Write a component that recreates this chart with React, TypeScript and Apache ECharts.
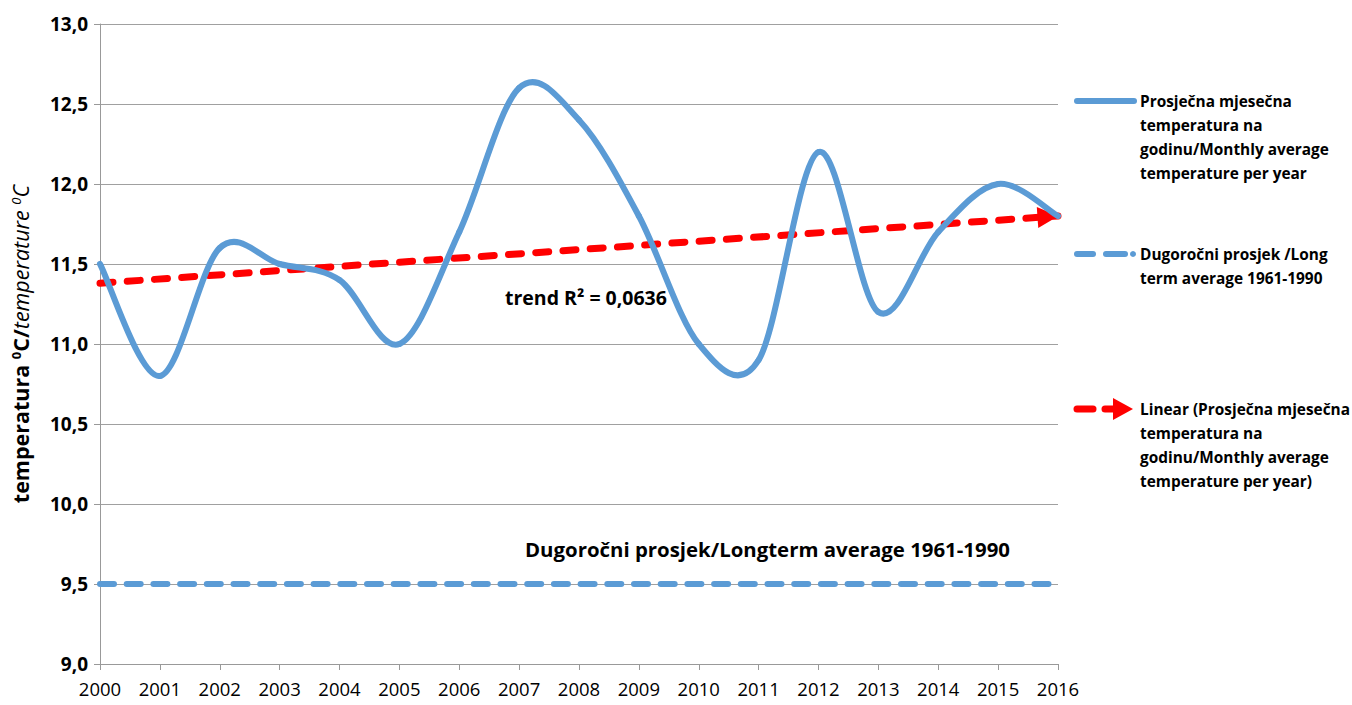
import React, { useEffect, useRef } from "react";
import * as echarts from "echarts";

const years = ["2000", "2001", "2002", "2003", "2004", "2005", "2006", "2007", "2008", "2009", "2010", "2011", "2012", "2013", "2014", "2015", "2016"];
const monthlyAvg = [11.5, 10.8, 11.6, 11.5, 11.4, 11.0, 11.7, 12.6, 12.4, 11.8, 11.0, 10.9, 12.2, 11.2, 11.7, 12.0, 11.8];
const longTermStart = 9.5;
const longTermEnd = 9.5;
const trendStart = 11.38;
const trendEnd = 11.8;
const yMin = 9;
const yMax = 13;
const yStep = 0.5;

const legendMain = ["Prosječna mjesečna", "temperatura na", "godinu/Monthly average", "temperature per year"];
const legendLong = ["Dugoročni prosjek /Long", "term average 1961-1990"];
const legendTrend = ["Linear (Prosječna mjesečna", "temperatura na", "godinu/Monthly average", "temperature per year)"];
const trendLabel = "trend R² = 0,0636";
const longTermLabel = "Dugoročni prosjek/Longterm average 1961-1990";

const BLUE = "#5B9BD5";
const RED = "#FF0000";
const FONT = "'Open Sans'";

export default function App() {
  const ref = useRef<HTMLDivElement>(null);
  useEffect(() => {
    if (!ref.current) return;
    const chart = echarts.init(ref.current, null, { renderer: "svg" });
    const n = monthlyAvg.length;
    const legendText = (lines: string[], x: number, y: number) => ({
      type: "text",
      left: x,
      top: y,
      style: {
        text: lines.join("\n"),
        font: `bold 15.4px ${FONT}`,
        fill: "#000",
        lineHeight: 24,
      },
    });
    chart.setOption({
      animation: false,
      backgroundColor: "#fff",
      grid: { left: 100, right: 294, top: 24, bottom: 41, containLabel: false },
      xAxis: {
        type: "category",
        data: years,
        boundaryGap: false,
        axisLine: { lineStyle: { color: "#999", width: 1 } },
        axisTick: { show: true, length: 6, lineStyle: { color: "#999" } },
        axisLabel: { color: "#000", fontFamily: FONT, fontSize: 18.5, margin: 15 },
        splitLine: { show: false },
      },
      yAxis: {
        type: "value",
        min: yMin,
        max: yMax,
        interval: yStep,
        name: "{b|temperatura }{bs|0}{b|C/}{i|temperature }{is|0}{i|C}",
        nameLocation: "middle",
        nameGap: 69,
        nameRotate: 90,
        nameTextStyle: {
          rich: {
            b: { fontFamily: FONT, fontWeight: "bold", fontSize: 21.5, color: "#000" },
            bs: { fontFamily: FONT, fontWeight: "bold", fontSize: 13, color: "#000", verticalAlign: "top" },
            i: { fontFamily: FONT, fontStyle: "italic", fontSize: 21.5, color: "#000" },
            is: { fontFamily: FONT, fontStyle: "italic", fontSize: 13, color: "#000", verticalAlign: "top" },
          },
        },
        axisLine: { show: true, lineStyle: { color: "#999" } },
        axisTick: { show: true, length: 6, lineStyle: { color: "#999" } },
        axisLabel: {
          color: "#000",
          fontFamily: FONT,
          fontWeight: "bold",
          fontSize: 19,
          margin: 12,
          formatter: (v: number) => v.toFixed(1).replace(".", ","),
        },
        splitLine: { show: true, lineStyle: { color: "#a0a0a0", width: 1 } },
      },
      series: [
        {
          name: "long",
          type: "line",
          data: [["2000", longTermStart], ["2016", longTermEnd]],
          symbol: "none",
          lineStyle: { color: BLUE, width: 6, type: [14, 12.7], cap: "round" },
          z: 2,
        },
        {
          name: "trend",
          type: "line",
          data: [
            { value: ["2000", trendStart], symbol: "none" },
            {
              value: ["2016", trendEnd],
              symbol: "path://M0,0L10,5L0,10Z",
              symbolSize: [21, 21],
              symbolRotate: 4,
              symbolOffset: [-10, 0.7],
              itemStyle: { color: RED },
            },
          ],
          showSymbol: true,
          clip: false,
          itemStyle: { color: RED },
          lineStyle: { color: RED, width: 7, type: [13, 14.3], cap: "round" },
          z: 3,
        },
        {
          name: "main",
          type: "custom",
          data: monthlyAvg.map((v, i) => [i, v]),
          clip: false,
          z: 4,
          renderItem: (params: any, api: any) => {
            const i = params.dataIndex;
            if (i >= n - 1) return null;
            const p = (k: number) => {
              const kk = Math.max(0, Math.min(n - 1, k));
              return api.coord([kk, monthlyAvg[kk]]);
            };
            const p0 = p(i - 1);
            const p1 = p(i);
            const p2 = p(i + 1);
            const p3 = p(i + 2);
            return {
              type: "bezierCurve",
              shape: {
                x1: p1[0],
                y1: p1[1],
                x2: p2[0],
                y2: p2[1],
                cpx1: p1[0] + (p2[0] - p0[0]) / 6,
                cpy1: p1[1] + (p2[1] - p0[1]) / 6,
                cpx2: p2[0] - (p3[0] - p1[0]) / 6,
                cpy2: p2[1] - (p3[1] - p1[1]) / 6,
              },
              style: { stroke: BLUE, lineWidth: 6, fill: "none", lineCap: "round" },
            };
          },
        },
      ],
      graphic: [
        { type: "line", shape: { x1: 1077, y1: 101, x2: 1134, y2: 101 }, style: { stroke: BLUE, lineWidth: 6, lineCap: "round" } },
        legendText(legendMain, 1140, 89),
        { type: "line", shape: { x1: 1077, y1: 254, x2: 1093, y2: 254 }, style: { stroke: BLUE, lineWidth: 6, lineCap: "round" } },
        { type: "line", shape: { x1: 1106, y1: 254, x2: 1125, y2: 254 }, style: { stroke: BLUE, lineWidth: 6, lineCap: "round" } },
        { type: "circle", shape: { cx: 1133, cy: 254, r: 3 }, style: { fill: BLUE } },
        legendText(legendLong, 1140, 242),
        { type: "line", shape: { x1: 1077, y1: 409, x2: 1093, y2: 409 }, style: { stroke: RED, lineWidth: 7, lineCap: "round" } },
        { type: "line", shape: { x1: 1105, y1: 409, x2: 1115, y2: 409 }, style: { stroke: RED, lineWidth: 7, lineCap: "round" } },
        { type: "polygon", shape: { points: [[1113, 398], [1133, 409], [1113, 420]] }, style: { fill: RED } },
        legendText(legendTrend, 1140, 397),
        {
          type: "text",
          left: 505,
          top: 287,
          style: { text: trendLabel, font: `bold 19.5px ${FONT}`, fill: "#000" },
        },
        {
          type: "text",
          left: 525,
          top: 539,
          style: { text: longTermLabel, font: `bold 20.4px ${FONT}`, fill: "#000" },
        },
      ],
    });
    return () => chart.dispose();
  }, []);
  return <div ref={ref} style={{ position: "fixed", left: 0, top: 0, width: 1352, height: 705 }} />;
}
